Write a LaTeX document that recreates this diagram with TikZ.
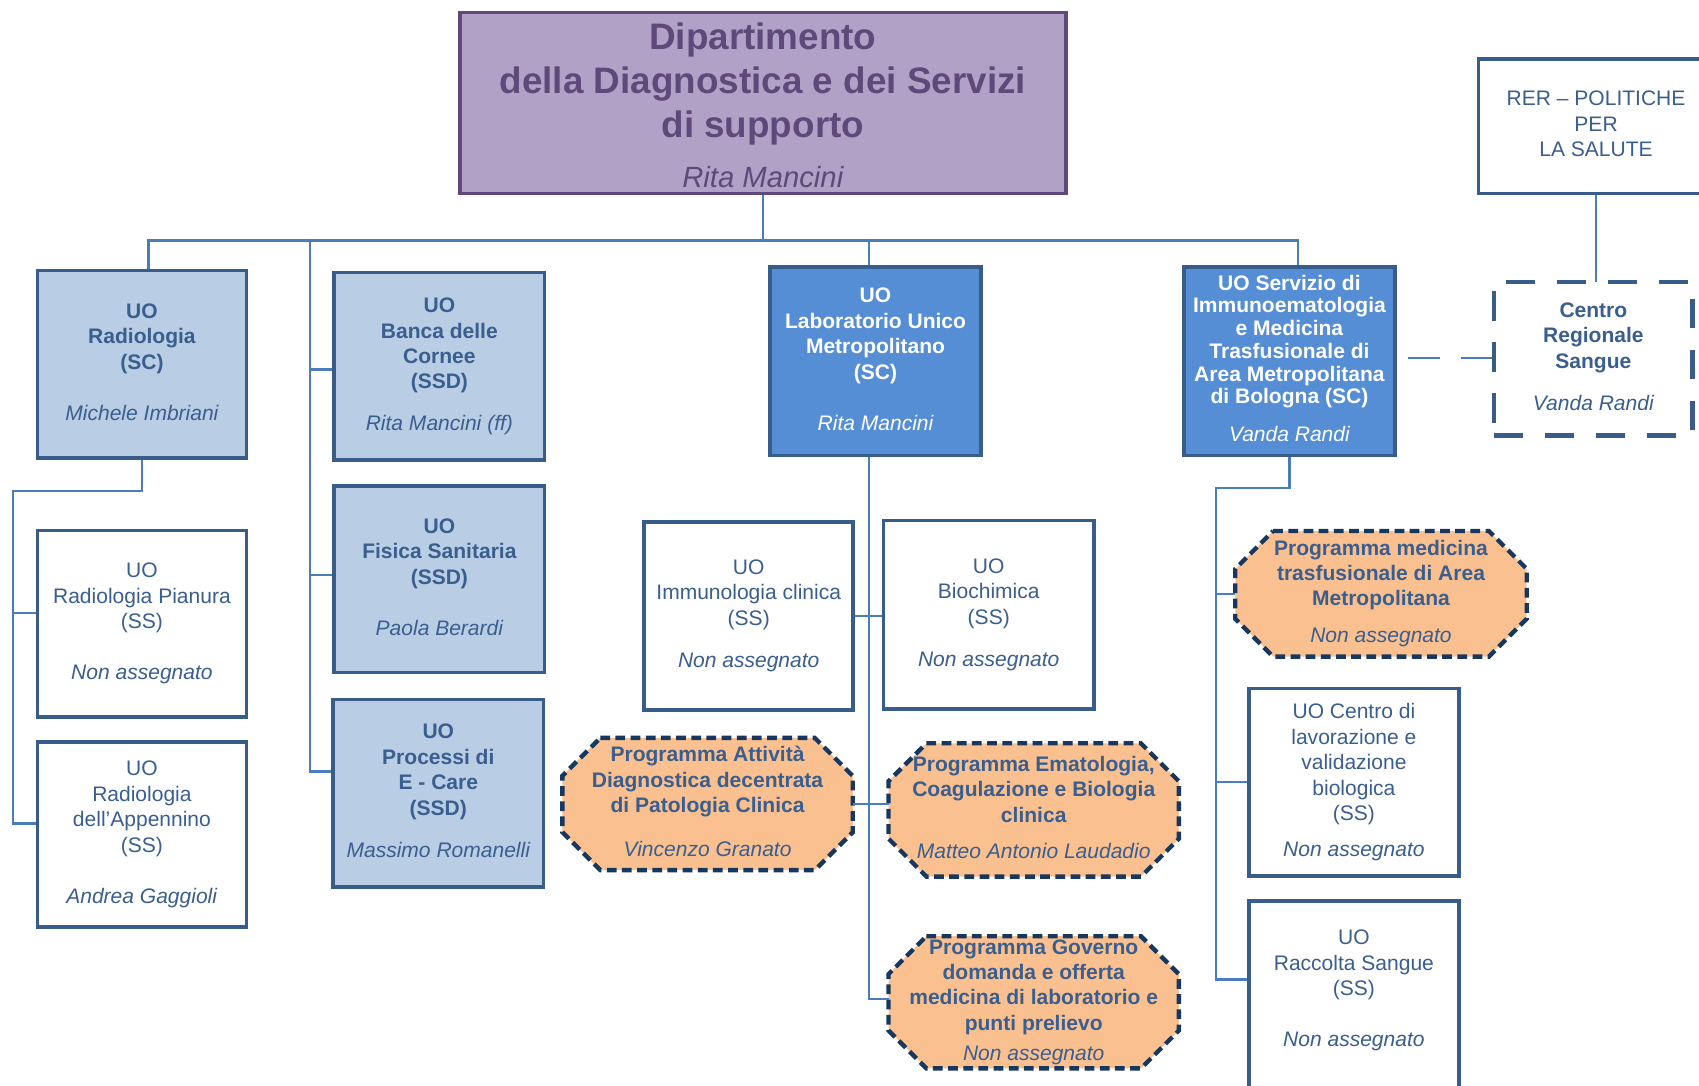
\documentclass[tikz,border=0pt]{standalone}
\usepackage{fontspec}
\setmainfont{Liberation Sans}
\usetikzlibrary{calc}
\definecolor{deptfill}{HTML}{B2A1C7}
\definecolor{deptline}{HTML}{5F497A}
\definecolor{lightfill}{HTML}{B9CDE5}
\definecolor{midfill}{HTML}{558ED5}
\definecolor{boxline}{HTML}{385D8A}
\definecolor{connline}{HTML}{4A7EBB}
\definecolor{peach}{HTML}{FAC090}
\definecolor{navy}{HTML}{17375E}
\definecolor{txtblue}{HTML}{3A5E8E}
\pgfdeclarelayer{background}
\pgfsetlayers{background,main}
\tikzset{
  orgbase/.style={inner sep=0pt, outer sep=0pt, align=center},
  sz/.style 2 args={minimum width=#1, minimum height=#2},
  regfont/.style={font=\fontsize{9.7}{11.75}\selectfont},
  boldfont/.style={font=\fontsize{9.7}{11.75}\selectfont\bfseries},
  lightbox/.style={orgbase, boldfont, draw=boxline, line width=1.7pt, fill=lightfill, text=txtblue},
  whitebox/.style={orgbase, regfont, draw=boxline, line width=1.7pt, fill=white, text=txtblue},
  midbox/.style={orgbase, boldfont, draw=boxline, line width=1.7pt, fill=midfill, text=white},
  progbox/.style={orgbase, boldfont, text=txtblue},
  progframe/.style={draw=navy, fill=peach, line width=2pt, dash pattern=on 4.5pt off 2.5pt},
  conn/.style={draw=connline, line width=1pt},
}
\newcommand\octframe[1]{%
  \begin{pgfonlayer}{background}
  \path[progframe] ([xshift=17.5pt]#1.north west) -- ([xshift=-17.5pt]#1.north east)
    -- ([yshift=-17.5pt]#1.north east) -- ([yshift=17.5pt]#1.south east)
    -- ([xshift=-17.5pt]#1.south east) -- ([xshift=17.5pt]#1.south west)
    -- ([yshift=17.5pt]#1.south west) -- ([yshift=-17.5pt]#1.north west) -- cycle;
  \end{pgfonlayer}}
\begin{document}
\begin{tikzpicture}[x=0.5pt,y=-0.5pt]
\useasboundingbox (0,0) rectangle (1568,1002);

% department
\node[orgbase, draw=deptline, line width=1.7pt, fill=deptfill, text=deptline,
      font=\fontsize{17}{20.5}\selectfont\bfseries, sz={279.5pt}{83.5pt}] (dept) at (704,95)
  {\strut Dipartimento\\della Diagnostica e dei Servizi\\di supporto\\[2.5pt]{\fontsize{13.5}{16}\selectfont\mdseries\itshape Rita Mancini}};

% left column
\node[lightbox, sz={96.5pt}{86.5pt}] (rad) at (131,336)
  {\strut UO\\Radiologia\\(SC)\\[11.75pt]{\mdseries\itshape Michele Imbriani\strut}};
\node[whitebox, sz={96.5pt}{86pt}] (pian) at (131,575.5)
  {\strut UO\\Radiologia Pianura\\(SS)\\[11.75pt]\textit{Non assegnato}\strut};
\node[whitebox, sz={96.5pt}{85.5pt}] (app) at (131,770)
  {\strut UO\\Radiologia\\dell’Appennino\\(SS)\\[11.75pt]\textit{Andrea Gaggioli}\strut};

% second column
\node[lightbox, sz={97pt}{86.5pt}] (banca) at (405.5,338)
  {\strut UO\\Banca delle\\Cornee\\(SSD)\\[7.25pt]{\mdseries\itshape Rita Mancini (ff)\strut}};
\node[lightbox, sz={97pt}{86pt}] (fis) at (405.5,534.5)
  {\strut UO\\Fisica Sanitaria\\(SSD)\\[11.75pt]{\mdseries\itshape Paola Berardi\strut}};
\node[lightbox, sz={97pt}{86.5pt}] (ecare) at (404.5,732)
  {\strut UO\\Processi di\\E - Care\\(SSD)\\[7.75pt]{\mdseries\itshape Massimo Romanelli\strut}};

% laboratory
\node[midbox, sz={97.5pt}{87pt}] (lab) at (808,333.5)
  {\strut UO\\Laboratorio Unico\\Metropolitano\\(SC)\\[11.75pt]{\mdseries\itshape Rita Mancini\strut}};
\node[whitebox, sz={96.5pt}{87pt}] (immcl) at (691,568.5)
  {\strut UO\\Immunologia clinica\\(SS)\\[7.75pt]\textit{Non assegnato}\strut};
\node[whitebox, sz={97pt}{87pt}] (bio) at (912.5,567.5)
  {\strut UO\\Biochimica\\(SS)\\[7.75pt]\textit{Non assegnato}\strut};
\node[progbox, sz={134pt}{61pt}] (att) at (653,742)
  {\strut Programma Attività\\Diagnostica decentrata\\di Patologia Clinica\\[8.25pt]{\mdseries\itshape Vincenzo Granato\strut}};
\octframe{att}
\node[progbox, sz={134pt}{61.5pt}] (ema) at (954,747.5)
  {\strut Programma Ematologia,\\Coagulazione e Biologia\\clinica\\[5.25pt]{\mdseries\itshape Matteo Antonio Laudadio\strut}};
\octframe{ema}
\node[progbox, sz={134pt}{61pt}] (gov) at (954,925)
  {\strut Programma Governo\\domanda e offerta\\medicina di laboratorio e\\punti prelievo\\[2.25pt]{\mdseries\itshape Non assegnato\strut}};
\octframe{gov}

% immunohaematology
\node[midbox, font=\fontsize{9.7}{10.5}\selectfont\bfseries, sz={97.5pt}{87pt}] (imm) at (1190,333.5)
  {\strut UO Servizio di\\Immunoematologia\\e Medicina\\Trasfusionale di\\Area Metropolitana\\di Bologna (SC)\\[7pt]{\mdseries\itshape Vanda Randi\strut}};
\node[progbox, sz={134.5pt}{58pt}] (med) at (1274.5,548)
  {\strut Programma medicina\\trasfusionale di Area\\Metropolitana\\[5.25pt]{\mdseries\itshape Non assegnato\strut}};
\octframe{med}
\node[whitebox, sz={97pt}{86.5pt}] (clav) at (1249.5,722)
  {\strut UO Centro di\\lavorazione e\\validazione\\biologica\\(SS)\\[4.75pt]\textit{Non assegnato}\strut};
\node[whitebox, sz={97pt}{88.5pt}] (racc) at (1249.5,920)
  {\strut UO\\Raccolta Sangue\\(SS)\\[11.75pt]\textit{Non assegnato}\strut\rule[-9.5pt]{0pt}{1pt}};

% regional
\node[whitebox, sz={108.5pt}{62pt}] (rer) at (1473,116.5)
  {\strut RER – POLITICHE\\PER\\LA SALUTE\strut};
\node[orgbase, boldfont, text=txtblue, draw=boxline, line width=2pt, dash pattern=on 13.5pt off 10pt,
      sz={91.5pt}{71pt}] (crs) at (1470.5,331)
  {\strut Centro\\Regionale\\Sangue\\[7.75pt]{\mdseries\itshape Vanda Randi\strut}};

% connectors
\coordinate (busL) at (137,222);
\coordinate (busR) at (1198,222);
\coordinate (spineT) at (286,222);
\coordinate (radJ) at (12,453);
\coordinate (immJ) at (1122,450);
\coordinate (labT) at ([xshift=-3pt]lab.north);
\coordinate (labB) at ([xshift=-3pt]lab.south);
\begin{pgfonlayer}{background}
\draw[conn] (dept.south) -- (dept.south |- busL);
\draw[conn] (rad.north -| busL) -- (busL) -- (busR) -- (busR |- imm.north);
\draw[conn] (labT |- busL) -- (labT);
\draw[conn] (spineT) |- ([yshift=10pt]ecare.west);
\draw[conn] ([yshift=-1.5pt]banca.west) -- ([yshift=-1.5pt]banca.west -| spineT);
\draw[conn] ([yshift=2pt]fis.west) -- ([yshift=2pt]fis.west -| spineT);
\draw[conn] (rad.south) |- (radJ) |- ([yshift=5pt]app.west);
\draw[conn] ([yshift=4.75pt]pian.west) -- ([yshift=4.75pt]pian.west -| radJ);
\draw[conn] (labB) |- ([yshift=1.5pt]gov.west);
\draw[conn] (immcl.east) -- (immcl.east -| bio.west);
\draw[conn] (att.east) -- (att.east -| ema.west);
\draw[conn] (imm.south) |- (immJ) |- ([yshift=8pt]racc.west);
\draw[conn] (med.west) -- (med.west -| immJ);
\draw[conn] (clav.west) -- (clav.west -| immJ);
\draw[conn] (rer.south) -- (rer.south |- crs.north);
\draw[conn, dash pattern=on 14.5pt off 10pt, dash phase=18.5pt] ([yshift=1.5pt]imm.east) -- ([yshift=1.5pt]imm.east -| crs.west);
\end{pgfonlayer}
\end{tikzpicture}
\end{document}
